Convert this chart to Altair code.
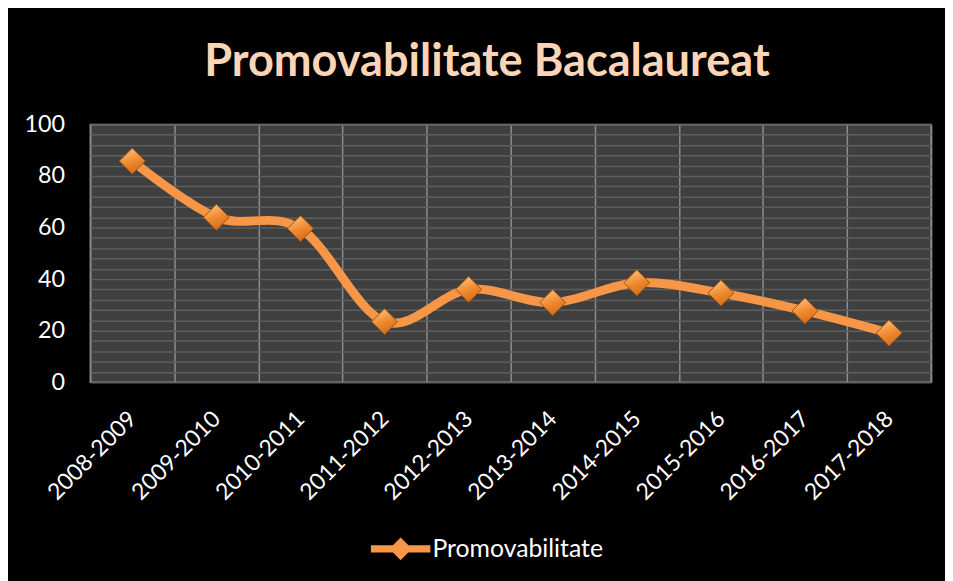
import altair as alt
import pandas as pd

years = ["2008-2009", "2009-2010", "2010-2011", "2011-2012", "2012-2013",
         "2013-2014", "2014-2015", "2015-2016", "2016-2017", "2017-2018"]
values = [85.8, 64.0, 59.6, 23.5, 36.0, 30.9, 38.6, 34.6, 27.7, 19.1]
series_name = "Promovabilitate"
y_ticks = list(range(0, 101, 4))

df = pd.DataFrame({"an": years, "val": values, "serie": [series_name] * len(years)})

ORANGE = "#F79646"
FONT = "Lato"

x_enc = alt.X(
    "an:N", sort=years, title=None,
    scale=alt.Scale(type="band", paddingInner=0, paddingOuter=0),
    axis=alt.Axis(labelAngle=-45, labelAlign="right", labelBaseline="middle",
                  labelPadding=33, labelColor="white", labelFontSize=23, labelFont=FONT,
                  ticks=False, domain=False, grid=True, tickBand="extent",
                  gridColor="#8C8C8C", gridWidth=1.5),
)
y_enc = alt.Y(
    "val:Q", title=None,
    scale=alt.Scale(domain=[0, 100], nice=False),
    axis=alt.Axis(values=y_ticks, labelExpr="datum.value % 20 == 0 ? datum.label : ''",
                  labelColor="white", labelFontSize=23.5, labelFont=FONT, labelPadding=26,
                  ticks=False, domain=False, grid=True, gridColor="#5E5E5E", gridWidth=1.5),
)

line = alt.Chart(df).mark_line(
    color=ORANGE, strokeWidth=9, interpolate="cardinal", strokeCap="round"
).encode(x=x_enc, y=y_enc)

legend_path = ("M-1,-0.12 L1,-0.12 L1,0.12 L-1,0.12 Z "
               "M0,-0.38 L0.38,0 L0,0.38 L-0.38,0 Z")

pts_legend = alt.Chart(df).mark_point(
    shape="diamond", filled=True, size=676, opacity=1
).encode(
    x=x_enc, y=y_enc,
    color=alt.Color("serie:N", scale=alt.Scale(domain=[series_name], range=[ORANGE]),
                    legend=alt.Legend(title=None, orient="none", legendX=283, legendY=398,
                                      symbolType=legend_path, symbolSize=3600,
                                      symbolStrokeWidth=0, labelColor="white",
                                      labelFontSize=25, labelFont=FONT, labelOffset=2,
                                      labelLimit=0, padding=0)),
)

grad = alt.Gradient(
    gradient="linear",
    stops=[alt.GradientStop(color="#FFC07A", offset=0),
           alt.GradientStop(color="#F08A30", offset=0.5),
           alt.GradientStop(color="#D06A18", offset=1)],
    x1=0.3, y1=0, x2=0.7, y2=1,
)

pts = alt.Chart(df).mark_point(
    shape="diamond", filled=True, size=676, opacity=1, fill=grad,
    stroke="#9C5216", strokeWidth=1
).encode(x=x_enc, y=y_enc)

chart = alt.layer(line, pts_legend, pts).properties(
    width=848, height=260,
    padding={"left": 83, "top": 115, "right": 14, "bottom": 198},
    autosize=alt.AutoSizeParams(type="none"),
    background="black",
    title=alt.TitleParams("Promovabilitate Bacalaureat", fontSize=45.5, font=FONT,
                          fontWeight="bold", color="#FBD5B5", anchor="middle",
                          baseline="bottom", offset=-19, dx=-24),
).configure_view(fill="#3F3F3F", stroke="#8C8C8C", strokeWidth=1.5)

chart.save("out.html", embed_options={"renderer": "svg", "actions": False})
